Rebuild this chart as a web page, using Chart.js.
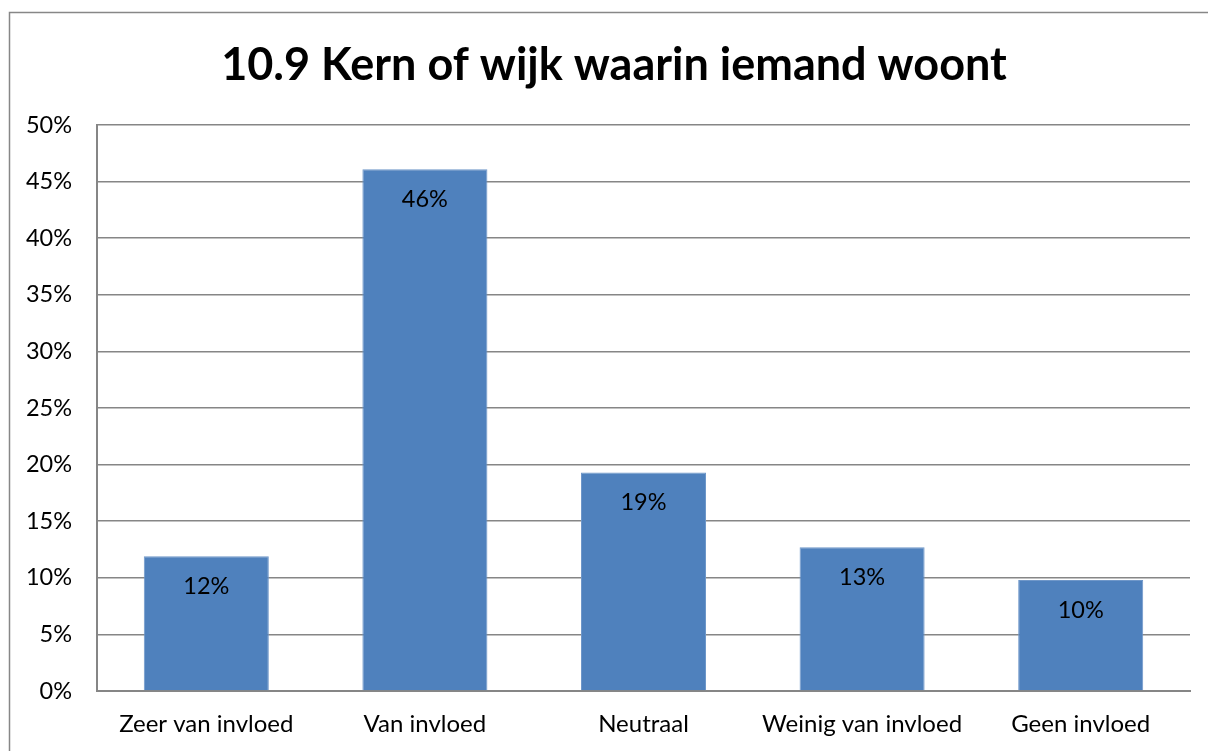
<!DOCTYPE html>
<html>
<head>
<meta charset="utf-8">
<script src="https://cdn.jsdelivr.net/npm/chart.js@4/dist/chart.umd.min.js"></script>
<style>
html,body{margin:0;padding:0;background:#fff;}
#wrap{width:1208px;height:751px;position:relative;}
</style>
</head>
<body>
<div id="wrap"><canvas id="c" width="1208" height="751"></canvas></div>
<script>
const categories = ["Zeer van invloed", "Van invloed", "Neutraal", "Weinig van invloed", "Geen invloed"];
const values = [11.9, 46.1, 19.3, 12.7, 9.8];
const yTicks = [0, 5, 10, 15, 20, 25, 30, 35, 40, 45, 50];
const titleText = "10.9 Kern of wijk waarin iemand woont";

const FONT = "Lato, 'Open Sans', sans-serif";

const frame = {
  id: 'frame',
  afterDraw(chart) {
    const ctx = chart.ctx;
    ctx.save();
    ctx.strokeStyle = '#878787';
    ctx.lineWidth = 1.5;
    ctx.beginPath();
    ctx.moveTo(9.5, 760);
    ctx.lineTo(9.5, 12.5);
    ctx.lineTo(1220, 12.5);
    ctx.stroke();
    ctx.fillStyle = '#000';
    ctx.font = 'bold 45px ' + FONT;
    ctx.textAlign = 'center';
    ctx.textBaseline = 'alphabetic';
    ctx.fillText(titleText, 614, 80);
    ctx.restore();
  }
};

const labels = {
  id: 'labels',
  afterDatasetsDraw(chart) {
    const ctx = chart.ctx;
    const meta = chart.getDatasetMeta(0);
    ctx.save();
    ctx.font = '23.5px ' + FONT;
    ctx.fillStyle = '#000';
    ctx.textAlign = 'center';
    ctx.textBaseline = 'middle';
    meta.data.forEach((bar, i) => {
      ctx.fillText(Math.round(values[i]) + '%', bar.x, bar.y + 30);
    });
    ctx.restore();
  }
};

new Chart(document.getElementById('c'), {
  type: 'bar',
  data: {
    labels: categories,
    datasets: [{
      data: values,
      backgroundColor: '#4F81BD',
      borderColor: '#6F97C9',
      borderWidth: 1,
      barPercentage: 0.572,
      categoryPercentage: 1.0
    }]
  },
  options: {
    responsive: false,
    animation: false,
    devicePixelRatio: 1,
    layout: { padding: { left: 0, right: 18, top: 125, bottom: 0 } },
    plugins: {
      legend: { display: false },
      tooltip: { enabled: false },
      title: { display: false }
    },
    scales: {
      x: {
        grid: { display: false, drawTicks: false },
        border: { display: true, color: '#868686', width: 2 },
        ticks: { color: '#000', font: { family: FONT, size: 24 }, padding: 19, maxRotation: 0, autoSkip: false },
        afterFit(scale) { scale.height = 60; }
      },
      y: {
        min: 0, max: 50,
        afterBuildTicks(scale) { scale.ticks = yTicks.map(v => ({ value: v })); },
        grid: { color: '#868686', lineWidth: 1.5, drawTicks: false },
        border: { display: true, color: '#868686', width: 2 },
        ticks: { color: '#000', font: { family: FONT, size: 23.5 }, padding: 25, callback: v => v + '%' },
        afterFit(scale) { scale.width = 97; }
      }
    }
  },
  plugins: [frame, labels]
});
</script>
</body>
</html>
